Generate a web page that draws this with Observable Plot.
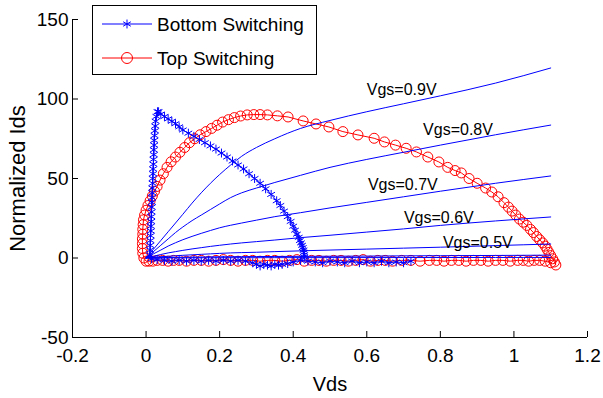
<!DOCTYPE html>
<html><head><meta charset="utf-8">
<script src="https://cdn.jsdelivr.net/npm/d3@7"></script>
<script src="https://cdn.jsdelivr.net/npm/@observablehq/plot@0.6"></script>
<style>
html,body{margin:0;padding:0;background:#fff;}
#wrap{position:relative;width:603px;height:398px;}
#legend{position:absolute;left:92px;top:5px;}
</style></head><body>
<div id="wrap"></div>
<script>
const xTicks = [-0.2, 0, 0.2, 0.4, 0.6, 0.8, 1, 1.2];
const yTicks = [-50, 0, 50, 100, 150];
const xLabel = "Vds";
const yLabel = "Normalized Ids";
const seriesNames = ["Bottom Switching", "Top Switching"];

// Id-Vd curves for several Vgs
const vgsX  = [0, 0.01, 0.02, 0.04, 0.06, 0.08, 0.1, 0.125, 0.15, 0.175, 0.2, 0.23, 0.26, 0.3, 0.35, 0.42, 0.5, 0.6, 0.7, 0.8, 0.95, 1.1];
const vgs09 = [0, 2.7, 5.5, 11, 16.5, 22, 27.5, 34.5, 41, 47, 52.5, 58.5, 64, 69.5, 75, 81.5, 86.5, 92, 97, 102, 110, 119.5];
const vgs08 = [0, 2, 4, 8, 12, 16, 19.5, 23.5, 27, 30.5, 34, 38, 41, 44, 47.5, 52, 57, 62, 66.5, 71, 77.5, 83.6];
const vgs07 = [0, 1.3, 2.6, 5, 7.5, 9.6, 11.5, 13.6, 15.5, 17.3, 19, 20.6, 22, 23.8, 26, 28.5, 31.5, 35, 38.5, 42, 47, 51.6];
const vgs06 = [0, 0.6, 1.1, 2.2, 3.2, 4, 4.8, 5.7, 6.5, 7.3, 8, 8.8, 9.5, 10.3, 11.3, 12.8, 14.3, 16.3, 18.3, 20.5, 23.3, 25.8];
const vgs05 = [0, 0.2, 0.4, 0.8, 1.1, 1.4, 1.7, 2, 2.3, 2.6, 2.9, 3.2, 3.4, 3.6, 4, 4.5, 5, 5.6, 6.2, 6.8, 7.8, 8.8];
const vgs04 = [0, 0.05, 0.1, 0.2, 0.3, 0.38, 0.45, 0.53, 0.6, 0.68, 0.75, 0.8, 0.85, 0.9, 0.97, 1.05, 1.12, 1.2, 1.35, 1.45, 1.6, 1.8];
const vgs03 = [0, 0.01, 0.02, 0.04, 0.06, 0.08, 0.1, 0.115, 0.13, 0.145, 0.16, 0.17, 0.18, 0.19, 0.21, 0.22, 0.23, 0.25, 0.28, 0.3, 0.33, 0.36];

const vgsNames  = ["Vgs=0.9V", "Vgs=0.8V", "Vgs=0.7V", "Vgs=0.6V", "Vgs=0.5V"];
const vgsLabelX = [0.60, 0.753, 0.603, 0.701, 0.807];
const vgsLabelY = [105.5, 80.5, 45.8, 25.3, 9.6];

// Bottom switching trajectory
const bottomX = [
  0.72,0.70,0.68,0.66,0.64,0.62,0.60,0.58,0.56,0.54,0.52,0.50,0.48,0.46,0.44,0.42,0.40,0.385,0.37,0.36,
  0.35,0.34,0.33,0.32,0.31,0.30,0.29,0.27,0.25,0.23,0.21,0.19,0.17,0.15,0.13,0.11,0.09,0.07,0.05,0.03,0.015,
  0.010,0.011,0.011,0.012,0.012,0.013,0.013,0.014,0.014,0.015,0.015,0.016,0.016,0.017,0.017,
  0.018,0.018,0.019,0.019,0.020,0.020,0.021,0.021,0.022,0.022,0.023,0.024,0.025,0.026,0.028,0.031,
  0.034,0.04,0.05,0.06,0.07,0.08,0.09,0.10,0.115,0.13,0.145,0.16,0.175,0.19,0.205,
  0.22,0.235,0.25,0.265,0.28,0.295,0.31,0.325,0.34,0.355,0.365,0.375,0.385,0.393,0.40,
  0.405,0.41,0.415,0.418,0.421,0.424,0.426,0.428,0.429,0.43,0.43];
const bottomY = [
  -2,-3,-2.5,-3,-2,-3,-2.5,-3,-2,-3,-2.5,-2,-3,-2.5,-2,-1.5,-2.5,-3.5,-4,-4.5,
  -4,-5,-4.5,-4,-5,-4,-3,-2,-1.5,-2,-1.5,-2,-1.5,-2,-1.5,-2,-1.5,-2,-1.5,-1,-0.5,
  2,5,8,11,14,17,20,23,26,29,32,35,38,41,44,
  47,50,53,56,59,62,65,68,71,74,77,80,83,86,89,92,
  92,90.5,89,87.5,86,84.5,82.5,80.5,78.5,76.5,74.5,72.5,70.5,68.5,66,
  63.5,61,58.5,56,53,50,47,43.5,40,36,33,29.5,26,23,20,
  17.5,15,13,11,9.5,8,6.5,5,3.5,2,0.5];

// Top switching trajectory
const topX = [
  1.10,1.085,1.07,1.055,1.04,1.025,1.01,0.99,0.97,0.95,0.93,0.91,0.89,0.87,0.85,0.83,0.81,0.79,0.77,0.745,
  0.72,0.695,0.67,0.65,0.63,0.61,0.59,0.57,0.55,0.53,0.51,0.49,0.47,0.45,0.43,0.41,0.39,0.37,0.35,0.33,
  0.31,0.29,0.27,0.25,0.23,0.21,0.19,0.17,0.15,0.13,0.11,0.09,0.075,0.06,0.045,0.03,0.018,0.008,0.0,
  -0.006,-0.009,-0.010,-0.010,-0.010,-0.009,-0.009,-0.008,-0.007,-0.004,0.0,0.005,0.011,0.017,0.023,0.03,
  0.038,0.047,0.057,0.068,0.08,0.092,0.105,0.118,0.132,0.147,0.163,0.178,0.193,0.208,0.224,0.24,0.257,
  0.275,0.293,0.31,0.33,0.357,0.386,0.427,0.462,0.497,0.535,0.576,0.62,0.648,0.678,0.707,0.735,0.766,
  0.796,0.82,0.84,0.857,0.878,0.9,0.923,0.94,0.957,0.973,0.985,0.995,1.005,1.015,1.025,1.035,1.045,
  1.053,1.062,1.07,1.078,1.085,1.09,1.095,1.1,1.105,1.11,1.114];
const topY = [
  -3,-2,-1.5,-1.5,-2,-1.5,-1.5,-2,-1.5,-1.5,-2,-1.5,-1.5,-2,-1.5,-1.5,-2,-1.5,-1.5,-2,
  -1.5,-1.5,-2,-1.5,-1.5,-2,-1,-1.5,-2,-1.5,-1.5,-2,-1.5,-1.5,-2,-1,-1.5,-2,-1.5,-1.5,
  -2,-1.5,-1.5,-2,-1.5,-1,-1.5,-2,-1.5,-1.5,-2,-1.5,-1.5,-2,-1.5,-1.5,-2,-2,-2,
  0,3,6,9,12,15,18,21,24,27,30,33,36,39,42,45,
  49,53,57,60.5,63.5,66.5,69.5,72.5,75,77.5,79.5,81.5,83.5,85.5,87,88.3,89.3,
  90,90.2,90.2,90,89.4,88.7,86.2,84.3,82.4,79.5,77.4,75.3,73,71,69,66.7,63.5,
  60.4,57,55,53.5,50,47,44,41.5,38.5,34.8,32,29.5,27,24.5,22.5,20.5,18,
  16,13.5,11.5,9.5,7.5,5.5,3.5,1.5,-0.5,-2.5,-4.4];

const FONT = "'Liberation Sans', Arial, Helvetica, sans-serif";
const BLUE = "#0000ff", RED = "#ff0000";

const zip = (xs, ys) => xs.slice(0, Math.min(xs.length, ys.length)).map((x, i) => ({x, y: ys[i]}));
const bottomData = zip(bottomX, bottomY);
const topData = zip(topX, topY);
const vgsSeries = [vgs09, vgs08, vgs07, vgs06, vgs05, vgs04, vgs03];
const curveData = vgsSeries.flatMap((ys, k) => vgsX.map((x, i) => ({x, y: ys[i], k})));
const labelData = vgsNames.map((t, i) => ({t, x: vgsLabelX[i], y: vgsLabelY[i]}));
const fmt = d => String(d);

const chart = Plot.plot({
  width: 603, height: 398,
  marginLeft: 72, marginRight: 16, marginTop: 19, marginBottom: 61,
  x: {domain: [-0.2, 1.2]},
  y: {domain: [-50, 150]},
  style: {fontFamily: FONT, fontSize: "19px", color: "black", background: "white", overflow: "visible"},
  marks: [
    Plot.line(topData, {x: "x", y: "y", stroke: RED, strokeWidth: 1}),
    Plot.dot(topData, {x: "x", y: "y", r: 5, stroke: RED, fill: "none", strokeWidth: 1}),
    Plot.line(bottomData, {x: "x", y: "y", stroke: BLUE, strokeWidth: 1}),
    Plot.dot(bottomData, {x: "x", y: "y", symbol: "asterisk", r: 4.2, stroke: BLUE, strokeWidth: 1}),
    Plot.line(curveData, {x: "x", y: "y", z: "k", stroke: BLUE, strokeWidth: 1, curve: "monotone-x"}),
    Plot.text(labelData, {x: "x", y: "y", text: "t", textAnchor: "start", lineAnchor: "middle", fontSize: 16, fill: "black"}),
    Plot.ruleX([-0.2], {stroke: "black"}),
    Plot.ruleY([-50], {stroke: "black"}),
    Plot.axisX(xTicks, {tickSize: 6, dy: -6, fill: "none", label: null}),
    Plot.axisX(xTicks, {tickSize: 0, tickPadding: 11, tickFormat: fmt, fontSize: 19, label: null}),
    Plot.axisY(yTicks, {tickSize: 6, dx: 6, fill: "none", label: null}),
    Plot.axisY(yTicks, {tickSize: 0, tickPadding: 4, tickFormat: fmt, fontSize: 19, label: null}),
    Plot.text([xLabel], {text: d => d, frameAnchor: "bottom", dy: 47, lineAnchor: "middle", fontSize: 20, fill: "black"}),
    Plot.text([yLabel], {text: d => d, frameAnchor: "left", dx: -55, rotate: -90, lineAnchor: "middle", textAnchor: "middle", fontSize: 22, fill: "black"})
  ]
});
const wrap = document.getElementById("wrap");
wrap.appendChild(chart);

// Legend
const lg = d3.create("svg").attr("id", "legend").attr("width", 226).attr("height", 71)
  .style("font-family", FONT).style("font-size", "19px");
lg.append("rect").attr("x", 0.5).attr("y", 0.5).attr("width", 224).attr("height", 69)
  .attr("fill", "white").attr("stroke", "black").attr("stroke-width", 1);
const entries = [
  {name: seriesNames[0], color: BLUE, sym: d3.symbolAsterisk, size: Math.PI * 4.2 * 4.2, cy: 19},
  {name: seriesNames[1], color: RED, sym: d3.symbolCircle, size: Math.PI * 5.5 * 5.5, cy: 53}
];
for (const e of entries) {
  const g = lg.append("g");
  g.append("line").attr("x1", 10).attr("x2", 60).attr("y1", e.cy).attr("y2", e.cy)
    .attr("stroke", e.color).attr("stroke-width", 1);
  g.append("path").attr("d", d3.symbol(e.sym, e.size)()).attr("transform", `translate(35,${e.cy})`)
    .attr("fill", "none").attr("stroke", e.color).attr("stroke-width", 1);
  g.append("text").attr("x", 65).attr("y", e.cy).attr("dy", "0.35em").attr("fill", "black").text(e.name);
}
wrap.appendChild(lg.node());
</script>
</body></html>
